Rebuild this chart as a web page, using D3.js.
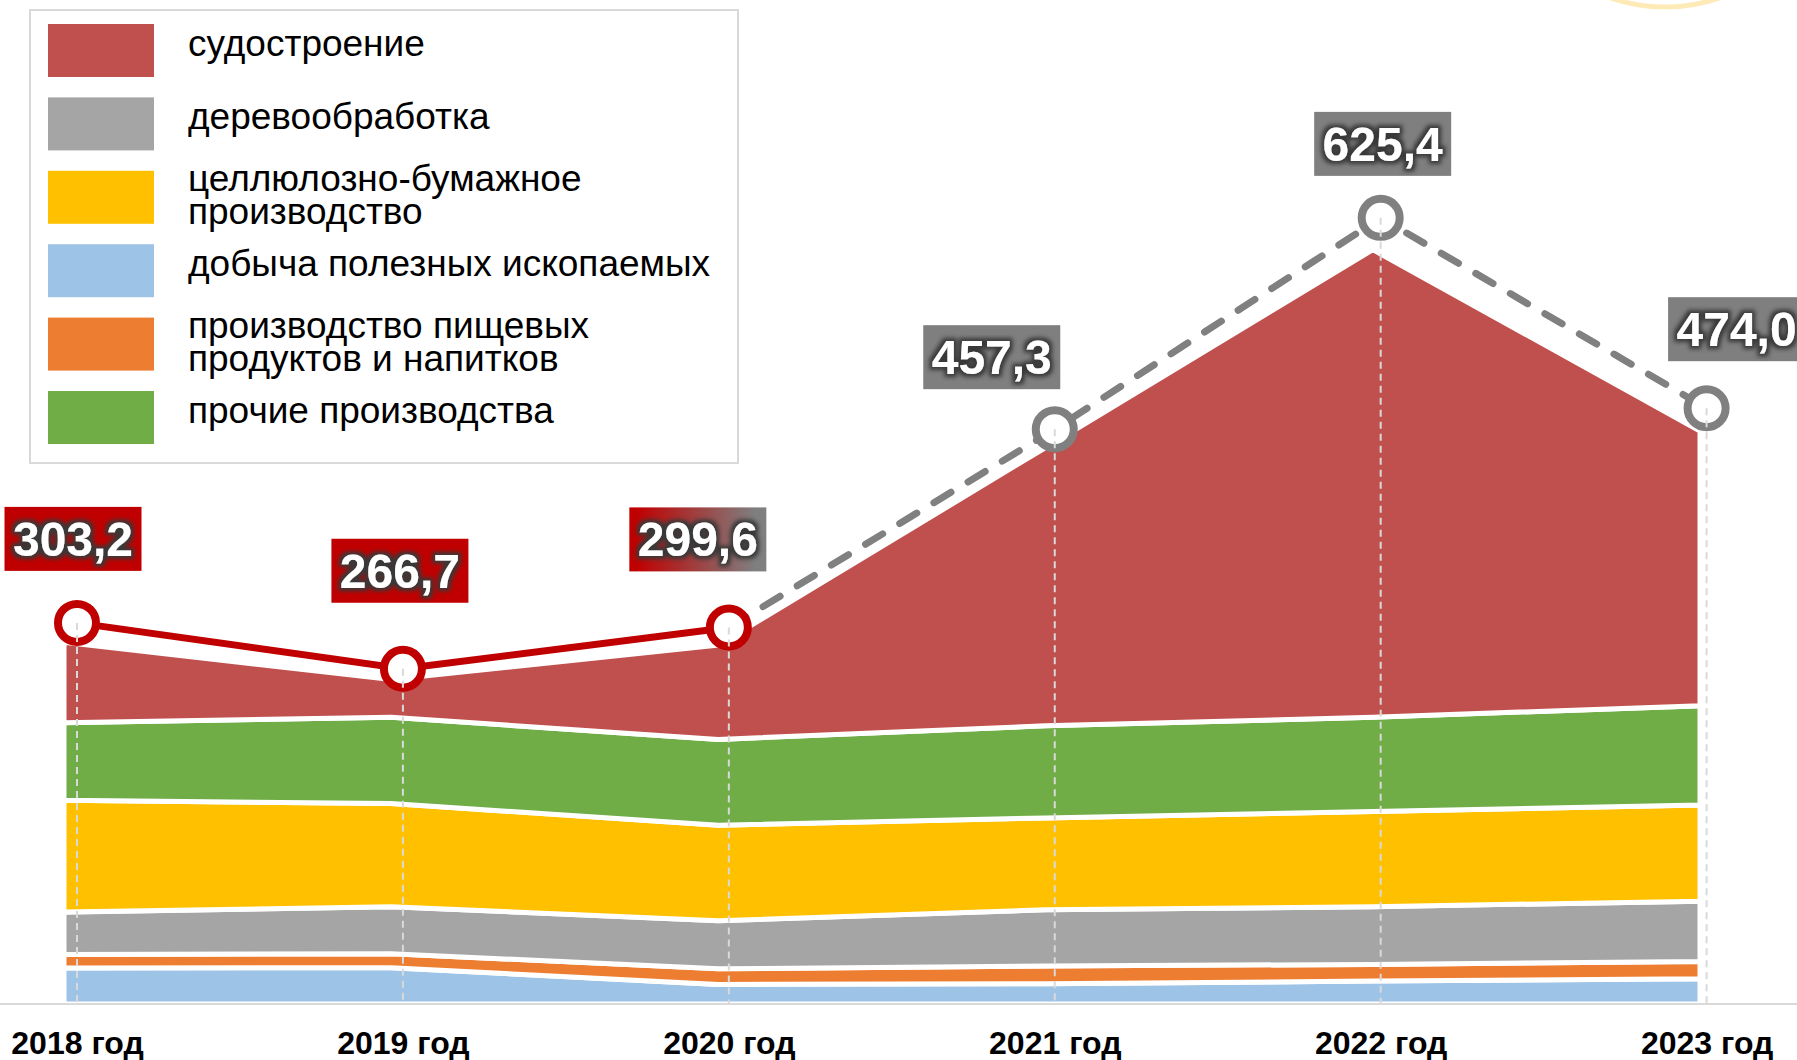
<!DOCTYPE html>
<html>
<head>
  <meta charset="utf-8">
  <title>Stacked Area Chart</title>
  <script src="https://d3js.org/d3.v7.min.js"></script>
  <style>
    body { margin: 0; background: #ffffff; }
    text { font-family: "Liberation Sans", Arial, sans-serif; }
  </style>
</head>
<body>
<div id="chart"></div>

<script>

// Data
var years = ["2018 год", "2019 год", "2020 год", "2021 год", "2022 год", "2023 год"];
var totals = [303.2, 266.7, 299.6, 457.3, 625.4, 474.0];

// Series, bottom to top of the stack
var mining = [28.6, 28.9, 15.6, 16.2, 18.2, 20.0];
var food = [10.8, 11.1, 12.4, 14.1, 13.3, 13.8];
var wood = [33.7, 37.4, 38.2, 44.7, 45.9, 48.0];
var paper = [88.9, 82.1, 76.0, 73.0, 75.7, 76.5];
var other = [61.8, 68.6, 68.3, 73.3, 75.0, 79.0];
var ships = [63.9, 30.1, 75.0, 221.4, 372.0, 218.5];

var stackKeys = ["mining", "food", "wood", "paper", "other", "ships"];
var seriesColors = {
  mining: "#9dc3e6", food: "#ed7d31", wood: "#a5a5a5",
  paper: "#ffc000", other: "#70ad47", ships: "#c0504d"
};

// Legend (top to bottom)
var legendKeys = ["ships", "wood", "paper", "mining", "food", "other"];
var legendLabels = [
  ["судостроение"],
  ["деревообработка"],
  ["целлюлозно-бумажное", "производство"],
  ["добыча полезных ископаемых"],
  ["производство пищевых", "продуктов и напитков"],
  ["прочие производства"]
];

// index of the last actual year (red solid line), afterwards gray dashed
var lastActual = 2;

// label box shifts relative to the points (layout only)
var labelShift = [[-4, -84], [-3, -98], [-31, -88], [-63, -72], [2, -74], [30, -79]];

var width = 1797;
var height = 1060;

var rows = years.map(function(y, i) {
  return { year: y, mining: mining[i], food: food[i], wood: wood[i],
           paper: paper[i], other: other[i], ships: ships[i] };
});

var svg = d3.select("#chart").append("svg")
  .attr("width", width)
  .attr("height", height);

var defs = svg.append("defs");

// dark glow behind the white label text
var glow = defs.append("filter").attr("id", "glow")
  .attr("x", "-20%").attr("y", "-30%").attr("width", "140%").attr("height", "160%");
glow.append("feMorphology").attr("in", "SourceAlpha").attr("operator", "dilate").attr("radius", 2.5).attr("result", "d");
glow.append("feGaussianBlur").attr("in", "d").attr("stdDeviation", 2).attr("result", "b");
glow.append("feFlood").attr("flood-color", "#383838");
glow.append("feComposite").attr("in2", "b").attr("operator", "in").attr("result", "s");
var merge = glow.append("feMerge");
merge.append("feMergeNode").attr("in", "s");
merge.append("feMergeNode").attr("in", "SourceGraphic");

// red -> gray gradient for the transition year
var grad = defs.append("linearGradient").attr("id", "transition");
grad.append("stop").attr("offset", "0.05").attr("stop-color", "#c00000");
grad.append("stop").attr("offset", "0.92").attr("stop-color", "#7f7f7f");

// decorative arc from the slide, top right
svg.append("circle")
  .attr("cx", 1665).attr("cy", -161).attr("r", 168)
  .attr("fill", "none").attr("stroke", "#fdeab6").attr("stroke-width", 5);

// Scales
var x = d3.scalePoint().domain(years).range([77, 1706.6]);
var xArea = d3.scalePoint().domain(years).range([64, 1700]);
var y = d3.scaleLinear().domain([0, 800]).range([1004, -1.6]);

// Stacked areas
var stacked = d3.stack().keys(stackKeys)(rows);

var area = d3.area()
  .x(function(d) { return xArea(d.data.year); })
  .y0(function(d) { return y(d[0]); })
  .y1(function(d) { return y(d[1]); });

svg.append("g").selectAll("path")
  .data(stacked)
  .enter()
  .append("path")
  .attr("fill", function(d) { return seriesColors[d.key]; })
  .attr("stroke", "#ffffff")
  .attr("stroke-width", 5)
  .attr("d", area);

// x axis line and labels
svg.append("line")
  .attr("x1", 0).attr("x2", width)
  .attr("y1", y(0)).attr("y2", y(0))
  .attr("stroke", "#d9d9d9").attr("stroke-width", 2);

var xAxis = d3.axisBottom(x).tickSize(0).tickPadding(0);
var axisG = svg.append("g")
  .attr("transform", "translate(0," + y(0) + ")")
  .call(xAxis);
axisG.select(".domain").remove();
axisG.selectAll("text")
  .attr("y", 50)
  .attr("dy", null)
  .style("font-family", "'Liberation Sans', Arial, sans-serif")
  .style("font-size", "32px")
  .style("font-weight", "bold")
  .attr("fill", "#000000");

// Total line: solid red for actual, dashed gray afterwards
var line = d3.line()
  .x(function(d, i) { return x(d.year); })
  .y(function(d) { return y(d.total); });

var points = years.map(function(yr, i) { return { year: yr, total: totals[i], i: i }; });

svg.append("path")
  .datum(points.slice(lastActual))
  .attr("fill", "none")
  .attr("stroke", "#808080")
  .attr("stroke-width", 7)
  .attr("stroke-linecap", "round")
  .attr("stroke-dasharray", "20,20")
  .attr("d", line);

svg.append("path")
  .datum(points.slice(0, lastActual + 1))
  .attr("fill", "none")
  .attr("stroke", "#c00000")
  .attr("stroke-width", 7)
  .attr("d", line);

// markers
svg.append("g").selectAll("circle")
  .data(points)
  .enter()
  .append("circle")
  .attr("cx", function(d) { return x(d.year); })
  .attr("cy", function(d) { return y(d.total); })
  .attr("r", 19)
  .attr("fill", "#ffffff")
  .attr("stroke", function(d) { return d.i <= lastActual ? "#c00000" : "#808080"; })
  .attr("stroke-width", 8);

// drop lines
svg.append("g").selectAll("line")
  .data(points)
  .enter()
  .append("line")
  .attr("x1", function(d) { return x(d.year); })
  .attr("x2", function(d) { return x(d.year); })
  .attr("y1", function(d) { return y(d.total); })
  .attr("y2", y(0))
  .attr("stroke", "#d9d9d9")
  .attr("stroke-width", 2)
  .attr("stroke-dasharray", "7,5");

// value labels
var fmt = function(v) { return d3.format(".1f")(v).replace(".", ","); };
var boxW = 137, boxH = 64;

var labels = svg.append("g").selectAll("g")
  .data(points)
  .enter()
  .append("g")
  .attr("transform", function(d) {
    var cx = x(d.year) + labelShift[d.i][0];
    var cy = y(d.total) + labelShift[d.i][1];
    return "translate(" + cx + "," + cy + ")";
  });

labels.append("rect")
  .attr("x", -boxW / 2).attr("y", -boxH / 2)
  .attr("width", boxW).attr("height", boxH)
  .attr("fill", function(d) {
    if (d.i < lastActual) return "#c00000";
    if (d.i === lastActual) return "url(#transition)";
    return "#7f7f7f";
  });

labels.append("text")
  .attr("text-anchor", "middle")
  .attr("y", 17)
  .attr("fill", "#ffffff")
  .attr("filter", "url(#glow)")
  .style("font-size", "48px")
  .style("font-weight", "bold")
  .text(function(d) { return fmt(d.total); });

// Legend
var legend = svg.append("g");

legend.append("rect")
  .attr("x", 30).attr("y", 10)
  .attr("width", 708).attr("height", 453)
  .attr("fill", "#ffffff")
  .attr("stroke", "#d9d9d9")
  .attr("stroke-width", 2);

var items = legend.selectAll("g.item")
  .data(legendKeys)
  .enter()
  .append("g")
  .attr("class", "item")
  .attr("transform", function(d, i) { return "translate(0," + (24 + i * 73.4) + ")"; });

items.append("rect")
  .attr("x", 48).attr("y", 0)
  .attr("width", 106).attr("height", 53)
  .attr("fill", function(d) { return seriesColors[d]; });

items.append("text")
  .attr("x", 188)
  .style("font-size", "37px")
  .attr("fill", "#000000")
  .each(function(d, i) {
    var lines = legendLabels[i];
    var t = d3.select(this);
    var first = lines.length > 1 ? 20 : 32;
    lines.forEach(function(s, k) {
      t.append("tspan").attr("x", 188).attr("y", first + k * 33).text(s);
    });
  });

</script>
</body>
</html>
